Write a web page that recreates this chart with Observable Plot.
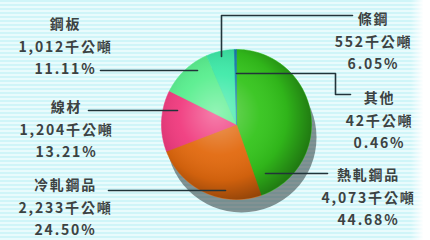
<!DOCTYPE html>
<html><head><meta charset="utf-8">
<script src="https://cdn.jsdelivr.net/npm/d3@7"></script>
<script src="https://cdn.jsdelivr.net/npm/@observablehq/plot@0.6"></script>
<style>
html,body{margin:0;padding:0;background:#fff;}
#chart{width:430px;height:240px;background:
 linear-gradient(to right, rgba(255,255,255,0) 95.5%, #fff 98.5%),
 repeating-linear-gradient(to bottom, #cff5f8 0px, #cff5f8 2px, #e9fbfc 2px, #e9fbfc 4px);}
#chart svg{background:none;display:block;}
#chart svg text{letter-spacing:1.8px;}
</style></head><body><div id="chart"></div>
<script>
// ---- data ----
const categories = ["熱軋鋼品", "冷軋鋼品", "線材", "鋼板", "條鋼", "其他"];
const amounts = [4073, 2233, 1204, 1012, 552, 42];           // 千公噸
const amountLabels = ["4,073千公噸", "2,233千公噸", "1,204千公噸", "1,012千公噸", "552千公噸", "42千公噸"];
const percents = [44.68, 24.50, 13.21, 11.11, 6.05, 0.46];
const percentLabels = ["44.68%", "24.50%", "13.21%", "11.11%", "6.05%", "0.46%"];

// ---- styles ----
const sliceColors = ["#34c41c", "#e2690e", "#f03a7e", "#58ee8e", "#3eeaa8", "#1a7fb2"];

// ---- layout (pixels) ----
const W = 430, H = 240, CX = 236, CY = 124, R = 75;
const labelPos = [[368, 195], [65, 205], [66, 127], [65, 44], [373, 39], [379, 118]];
const leaderPaths = [
  [[265, 173], [327, 173]],
  [[108, 190], [225, 190]],
  [[88, 110], [177, 110]],
  [[100, 70], [197, 70]],
  [[352, 15], [221, 15], [221, 56]],
  [[236, 73], [335, 73], [335, 94], [350, 94]]
];

const ux = px => (px - CX) / R;
const uy = py => (CY - py) / R;

// pie geometry from the values
const arcs = d3.pie().sort(null).value(d => d)(percents);
const slicePts = [];
arcs.forEach((a, i) => {
  const n = Math.max(2, Math.ceil((a.endAngle - a.startAngle) / 0.02));
  slicePts.push({k: i, x: 0, y: 0, c: sliceColors[i]});
  for (let j = 0; j <= n; j++) {
    const t = a.startAngle + (a.endAngle - a.startAngle) * j / n;
    slicePts.push({k: i, x: Math.sin(t), y: Math.cos(t), c: sliceColors[i]});
  }
  slicePts.push({k: i, x: 0, y: 0, c: sliceColors[i]});
});

const leaderPts = [];
leaderPaths.forEach((p, i) => p.forEach(([px, py]) => leaderPts.push({k: i, x: ux(px), y: uy(py)})));

const labels = categories.map((c, i) => ({
  x: ux(labelPos[i][0]), y: uy(labelPos[i][1]),
  t: `${c}\n${amountLabels[i]}\n${percentLabels[i]}`
}));

const plot = Plot.plot({
  width: W, height: H,
  margin: 0,
  style: {background: "none"},
  x: {domain: [ux(0), ux(W)], axis: null},
  y: {domain: [uy(H), uy(0)], axis: null},
  color: {type: "identity"},
  marks: [
    Plot.dot([0], {x: () => 0, y: () => 0, r: R, dx: 5, dy: 13, fill: "#1e2a2a", fillOpacity: 0.5, ariaLabel: "shadow"}),
    Plot.line(slicePts, {x: "x", y: "y", z: "k", fill: "c", stroke: "c", strokeWidth: 0.6}),
    Plot.dot([0], {x: () => 0, y: () => 0, r: R, fill: "url(#pieShade)", ariaLabel: "shade"}),
    Plot.line(leaderPts, {x: "x", y: "y", z: "k", stroke: "#22343a", strokeWidth: 1.6, curve: "linear"}),
    Plot.text(labels, {x: "x", y: "y", text: "t", textAnchor: "middle", lineHeight: 1.6, fontSize: 14,
      fontFamily: "'Noto Sans CJK TC', 'Noto Sans', sans-serif", fontWeight: "bold", fill: "#3c4242"})
  ]
});

const svg = d3.select(plot);
const defs = svg.insert("defs", ":first-child");
const g = defs.append("radialGradient").attr("id", "pieShade")
  .attr("cx", 0.42).attr("cy", 0.45).attr("r", 0.6).attr("fx", 0.36).attr("fy", 0.42);
[[0, "#ffffff", 0.35], [0.45, "#ffffff", 0.05], [0.72, "#000000", 0.08], [1, "#000000", 0.4]]
  .forEach(([o, c, a]) => g.append("stop").attr("offset", o).attr("stop-color", c).attr("stop-opacity", a));
svg.select('g[aria-label="shadow"]').style("filter", "blur(9px)");

document.getElementById("chart").append(plot);
</script>
</body></html>
